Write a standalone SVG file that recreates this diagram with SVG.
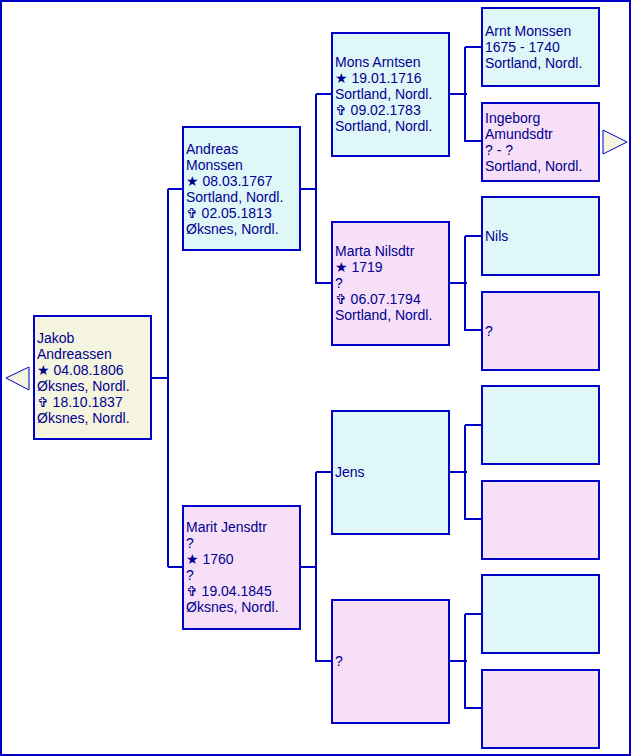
<svg xmlns="http://www.w3.org/2000/svg" width="632" height="756" viewBox="0 0 632 756">
<style>
.m{fill:#E0F7F8;stroke:#0000C8;stroke-width:2}
.f{fill:#F7DFF7;stroke:#0000C8;stroke-width:2}
.r{fill:#F5F5DF;stroke:#0000C8;stroke-width:2}
.c{fill:none;stroke:#0000C8;stroke-width:2}
.t{font-family:"Liberation Sans",Arial,"DejaVu Sans",sans-serif;font-size:14px;fill:#000090}
.a{fill:#F5F5DF;stroke:#0000C8;stroke-width:1}
</style>
<rect x="1" y="1" width="629" height="754" fill="#FFFFFF" stroke="#0000C8" stroke-width="2"/>
<g id="connectors">
<path class="c" d="M151 378H168M168 189V567M168 189H183M168 567H183"/>
<path class="c" d="M300 189H317M316 94V284M316 94H332M316 283H332"/>
<path class="c" d="M300 567H317M316 472V662M316 472H332M316 661H332"/>
<path class="c" d="M449 94H467M465 47V142M465 47H482M465 141H482"/>
<path class="c" d="M449 283H467M465 236V331M465 236H482M465 330H482"/>
<path class="c" d="M449 472H467M465 425V520M465 425H482M465 519H482"/>
<path class="c" d="M449 661H467M465 614V709M465 614H482M465 708H482"/>
</g>
<g id="arrow-left"><polygon class="a" points="6,378 29,367 29,390"/></g>
<g id="arrow-right"><polygon class="a" points="603,130 603,154 627,142"/></g>
<g id="jakob">
<rect class="r" x="34" y="316" width="117" height="123"/>
<text class="t" x="37" y="343">Jakob</text>
<text class="t" x="37" y="359">Andreassen</text>
<text class="t" x="37" y="375">★ 04.08.1806</text>
<text class="t" x="37" y="391">Øksnes, Nordl.</text>
<text class="t" x="37" y="407">✞ 18.10.1837</text>
<text class="t" x="37" y="423">Øksnes, Nordl.</text>
</g>
<g id="andreas">
<rect class="m" x="183" y="127" width="117" height="123"/>
<text class="t" x="186" y="154">Andreas</text>
<text class="t" x="186" y="170">Monssen</text>
<text class="t" x="186" y="186">★ 08.03.1767</text>
<text class="t" x="186" y="202">Sortland, Nordl.</text>
<text class="t" x="186" y="218">✞ 02.05.1813</text>
<text class="t" x="186" y="234">Øksnes, Nordl.</text>
</g>
<g id="marit">
<rect class="f" x="183" y="506" width="117" height="123"/>
<text class="t" x="186" y="532">Marit Jensdtr</text>
<text class="t" x="186" y="548">?</text>
<text class="t" x="186" y="564">★ 1760</text>
<text class="t" x="186" y="580">?</text>
<text class="t" x="186" y="596">✞ 19.04.1845</text>
<text class="t" x="186" y="612">Øksnes, Nordl.</text>
</g>
<g id="mons">
<rect class="m" x="332" y="33" width="117" height="123"/>
<text class="t" x="335" y="67">Mons Arntsen</text>
<text class="t" x="335" y="83">★ 19.01.1716</text>
<text class="t" x="335" y="99">Sortland, Nordl.</text>
<text class="t" x="335" y="115">✞ 09.02.1783</text>
<text class="t" x="335" y="131">Sortland, Nordl.</text>
</g>
<g id="marta">
<rect class="f" x="332" y="222" width="117" height="123"/>
<text class="t" x="335" y="256">Marta Nilsdtr</text>
<text class="t" x="335" y="272">★ 1719</text>
<text class="t" x="335" y="288">?</text>
<text class="t" x="335" y="304">✞ 06.07.1794</text>
<text class="t" x="335" y="320">Sortland, Nordl.</text>
</g>
<g id="jens">
<rect class="m" x="332" y="411" width="117" height="123"/>
<text class="t" x="335" y="477">Jens</text>
</g>
<g id="unknown-mother">
<rect class="f" x="332" y="600" width="117" height="123"/>
<text class="t" x="335" y="666">?</text>
</g>
<g id="arnt">
<rect class="m" x="482" y="8" width="117" height="78"/>
<text class="t" x="485" y="36">Arnt Monssen</text>
<text class="t" x="485" y="52">1675 - 1740</text>
<text class="t" x="485" y="68">Sortland, Nordl.</text>
</g>
<g id="ingeborg">
<rect class="f" x="482" y="103" width="117" height="78"/>
<text class="t" x="485" y="123">Ingeborg</text>
<text class="t" x="485" y="139">Amundsdtr</text>
<text class="t" x="485" y="155">? - ?</text>
<text class="t" x="485" y="171">Sortland, Nordl.</text>
</g>
<g id="nils">
<rect class="m" x="482" y="197" width="117" height="78"/>
<text class="t" x="485" y="241">Nils</text>
</g>
<g id="unknown-4">
<rect class="f" x="482" y="292" width="117" height="78"/>
<text class="t" x="485" y="336">?</text>
</g>
<g id="empty-5"><rect class="m" x="482" y="386" width="117" height="78"/></g>
<g id="empty-6"><rect class="f" x="482" y="481" width="117" height="78"/></g>
<g id="empty-7"><rect class="m" x="482" y="575" width="117" height="78"/></g>
<g id="empty-8"><rect class="f" x="482" y="670" width="117" height="78"/></g>
</svg>
